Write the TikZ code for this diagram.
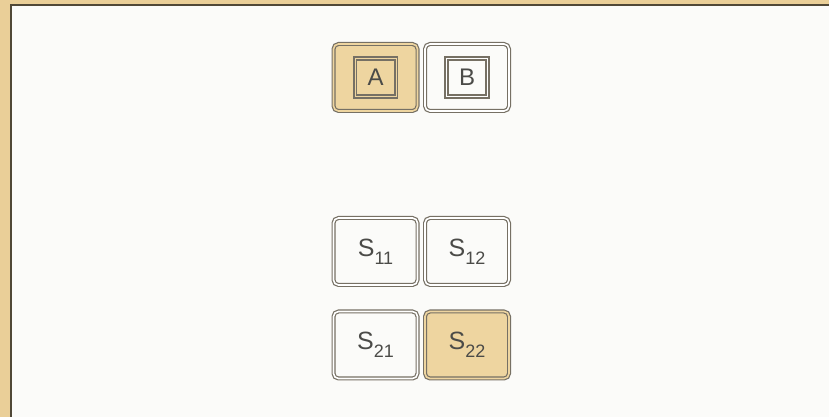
\documentclass[tikz,border=0pt]{standalone}
\usepackage{fontspec}
\setsansfont{Liberation Sans}
\usetikzlibrary{positioning}

\definecolor{tanbg}{RGB}{234,207,152}
\definecolor{tankey}{RGB}{238,213,160}
\definecolor{keyedge}{RGB}{118,112,100}
\definecolor{paneledge}{RGB}{80,72,55}
\definecolor{panel}{RGB}{251,251,249}
\definecolor{keytext}{RGB}{75,75,72}

\newcommand{\keysub}[2]{#1\raisebox{-8pt}{\fontsize{18}{18}\selectfont #2}}

\tikzset{
  key/.style={draw=keyedge, double=white, double distance=1.6pt, line width=1.2pt,
    rounded corners=5pt, minimum width=84pt, minimum height=67pt, inner sep=0pt,
    text=keytext, font=\sffamily\fontsize{25}{25}\selectfont},
  litkey/.style={key, fill=tankey, double=tankey},
  keycap/.style={draw=keyedge, double=white, double distance=1pt, line width=1.7pt,
    minimum width=41pt, minimum height=38pt, inner sep=0pt,
    text=keytext, font=\sffamily\fontsize{24}{24}\selectfont},
  litkeycap/.style={keycap, double=tankey}
}

\begin{document}
\begin{tikzpicture}[x=1pt, y=1pt]
    \useasboundingbox (0,0) rectangle (829,417);

    % Frame
    \fill[tanbg] (0,0) rectangle (829,417);
    \fill[panel] (11,0) rectangle (829,412);
    \draw[paneledge, line width=2.5pt] (11,0) -- (11,412) -- (829,412);

    % Top keys
    \node[litkey] (keyA) at (375.5,339.5) {};
    \node[key] (keyB) at (467,339.5) {};
    \node[litkeycap] (capA) at (keyA) {A};
    \node[keycap] (capB) at (keyB) {B};

    % S keys
    \node[key] (s11) at (375.5,165.5) {\keysub{S}{11}};
    \node[key] (s12) at (467,165.5) {\keysub{S}{12}};
    \node[key] (s21) at (375.5,72) {\keysub{S}{21}};
    \node[litkey] (s22) at (467,72) {\keysub{S}{22}};
\end{tikzpicture}
\end{document}
